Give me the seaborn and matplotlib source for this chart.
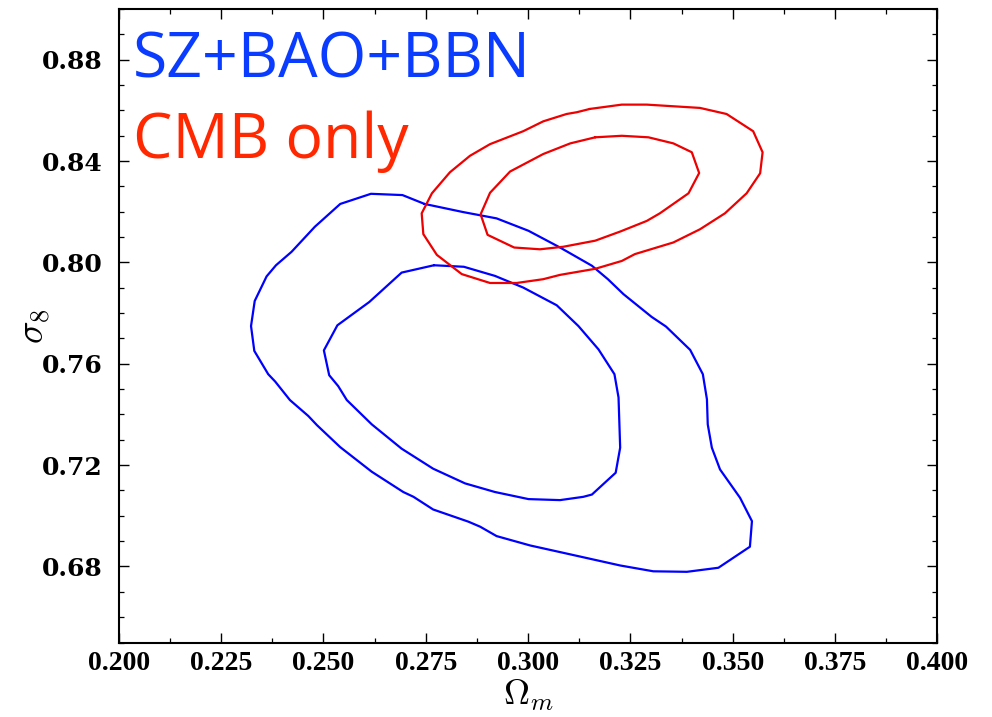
import matplotlib
matplotlib.use("Agg")
import matplotlib.pyplot as plt
from matplotlib.ticker import MultipleLocator, FuncFormatter
import seaborn as sns
import pandas as pd

# Confidence contours in the (Omega_m, sigma_8) plane (68% and 95% levels)
sz_outer_om = [0.2747, 0.2841, 0.2923, 0.3001, 0.3078, 0.3156, 0.3195, 0.3233, 0.3302, 0.3337,
               0.3396, 0.3427, 0.3437, 0.3439, 0.3449, 0.3469, 0.3518, 0.3547, 0.3542, 0.3465,
               0.3388, 0.3306, 0.3225, 0.3086, 0.3005, 0.2923, 0.2883, 0.2854, 0.2768, 0.2720,
               0.2695, 0.2618, 0.2541, 0.2484, 0.2463, 0.2418, 0.2382, 0.2365, 0.2331, 0.2323,
               0.2332, 0.2361, 0.2384, 0.2422, 0.2479, 0.2541, 0.2616, 0.2693, 0.2747]
sz_outer_s8 = [0.8231, 0.8199, 0.8174, 0.8125, 0.8059, 0.7987, 0.7934, 0.7875, 0.7785, 0.7747,
               0.7655, 0.7559, 0.7460, 0.7361, 0.7269, 0.7183, 0.7071, 0.6979, 0.6878, 0.6795,
               0.6779, 0.6781, 0.6804, 0.6854, 0.6883, 0.6920, 0.6957, 0.6977, 0.7025, 0.7075,
               0.7094, 0.7174, 0.7271, 0.7358, 0.7394, 0.7457, 0.7530, 0.7559, 0.7651, 0.7749,
               0.7848, 0.7945, 0.7989, 0.8042, 0.8141, 0.8231, 0.8271, 0.8266, 0.8231]

sz_inner_om = [0.2770, 0.2843, 0.2919, 0.2988, 0.3070, 0.3123, 0.3172, 0.3211, 0.3221, 0.3225,
               0.3214, 0.3156, 0.3135, 0.3078, 0.3001, 0.2919, 0.2846, 0.2768, 0.2691, 0.2618,
               0.2557, 0.2536, 0.2514, 0.2501, 0.2534, 0.2612, 0.2691, 0.2770]
sz_inner_s8 = [0.7989, 0.7983, 0.7947, 0.7901, 0.7831, 0.7749, 0.7657, 0.7559, 0.7467, 0.7269,
               0.7170, 0.7084, 0.7075, 0.7062, 0.7066, 0.7094, 0.7128, 0.7186, 0.7265, 0.7361,
               0.7457, 0.7512, 0.7555, 0.7653, 0.7752, 0.7844, 0.7960, 0.7989]

cmb_outer_om = [0.3151, 0.3229, 0.3290, 0.3420, 0.3485, 0.3550, 0.3573, 0.3567, 0.3534, 0.3481,
                0.3420, 0.3355, 0.3261, 0.3229, 0.3164, 0.3078, 0.3037, 0.2972, 0.2907, 0.2838,
                0.2777, 0.2744, 0.2740, 0.2765, 0.2809, 0.2858, 0.2907, 0.2988, 0.3037, 0.3094,
                0.3119, 0.3151]
cmb_outer_s8 = [0.8606, 0.8623, 0.8623, 0.8610, 0.8586, 0.8518, 0.8435, 0.8352, 0.8273, 0.8194,
                0.8131, 0.8079, 0.8033, 0.8006, 0.7975, 0.7951, 0.7934, 0.7919, 0.7919, 0.7954,
                0.8030, 0.8112, 0.8194, 0.8273, 0.8356, 0.8421, 0.8467, 0.8518, 0.8557, 0.8586,
                0.8593, 0.8606]

cmb_inner_om = [0.3164, 0.3229, 0.3294, 0.3355, 0.3400, 0.3418, 0.3392, 0.3322, 0.3290, 0.3225,
                0.3164, 0.3086, 0.3029, 0.2966, 0.2901, 0.2884, 0.2907, 0.2956, 0.3037, 0.3103,
                0.3164]
cmb_inner_s8 = [0.8494, 0.8500, 0.8494, 0.8470, 0.8435, 0.8353, 0.8273, 0.8194, 0.8164, 0.8122,
                0.8086, 0.8062, 0.8052, 0.8059, 0.8109, 0.8190, 0.8275, 0.8359, 0.8428, 0.8470,
                0.8494]

x_ticks = [0.200, 0.225, 0.250, 0.275, 0.300, 0.325, 0.350, 0.375, 0.400]
y_ticks = [0.68, 0.72, 0.76, 0.80, 0.84, 0.88]

sns.set_style("white")
plt.rcParams["mathtext.fontset"] = "cm"
plt.rcParams["font.family"] = ["Open Sans", "DejaVu Sans"]

fig = plt.figure(figsize=(9.92, 7.17), dpi=100)
ax = fig.add_axes([0.1198, 0.1039, 0.8251, 0.8834])

contours = [
    (sz_outer_om, sz_outer_s8, "#0000ff"),
    (sz_inner_om, sz_inner_s8, "#0000ff"),
    (cmb_outer_om, cmb_outer_s8, "#ee0000"),
    (cmb_inner_om, cmb_inner_s8, "#ee0000"),
]
for om, s8, col in contours:
    df = pd.DataFrame({"om": om, "s8": s8})
    sns.lineplot(data=df, x="om", y="s8", sort=False, estimator=None,
                 color=col, linewidth=1.6, ax=ax)

ax.set_xlim(0.200, 0.400)
ax.set_ylim(0.65, 0.90)
ax.set_xticks(x_ticks)
ax.set_yticks(y_ticks)
ax.xaxis.set_minor_locator(MultipleLocator(0.0125))
ax.yaxis.set_minor_locator(MultipleLocator(0.01))
ax.xaxis.set_major_formatter(FuncFormatter(lambda v, p: "%.3f" % v))
ax.yaxis.set_major_formatter(FuncFormatter(lambda v, p: "%.2f" % v))
ax.tick_params(which="both", direction="in", top=True, right=True,
               bottom=True, left=True, color="black", labelcolor="black")
ax.tick_params(which="major", length=7, width=1.0)
ax.tick_params(axis="x", which="major", pad=6, labelsize=20)
ax.tick_params(axis="y", which="major", pad=12, labelsize=18)
ax.tick_params(which="minor", length=3.5, width=0.9)
for lab in ax.get_xticklabels():
    lab.set_fontfamily("Liberation Serif")
    lab.set_fontweight("bold")
for lab in ax.get_yticklabels():
    lab.set_fontfamily("DejaVu Serif")
    lab.set_fontweight("bold")
for sp in ax.spines.values():
    sp.set_color("black")
    sp.set_linewidth(1.5)

ax.set_xlabel(r"$\Omega_m$", fontsize=26, color="black", va="top")
ax.set_ylabel(r"$\sigma_8$", fontsize=27, color="black", va="center")
ax.xaxis.set_label_coords(0.5, -0.0555)
ax.yaxis.set_label_coords(-0.103, 0.5)

ax.text(0.0173, 0.892, "SZ+BAO+BBN", transform=ax.transAxes, color="#0a3cff",
        fontsize=45, va="baseline", ha="left")
ax.text(0.0173, 0.765, "CMB only", transform=ax.transAxes, color="#ff2800",
        fontsize=45, va="baseline", ha="left")

fig.savefig("out.png", dpi=100)
